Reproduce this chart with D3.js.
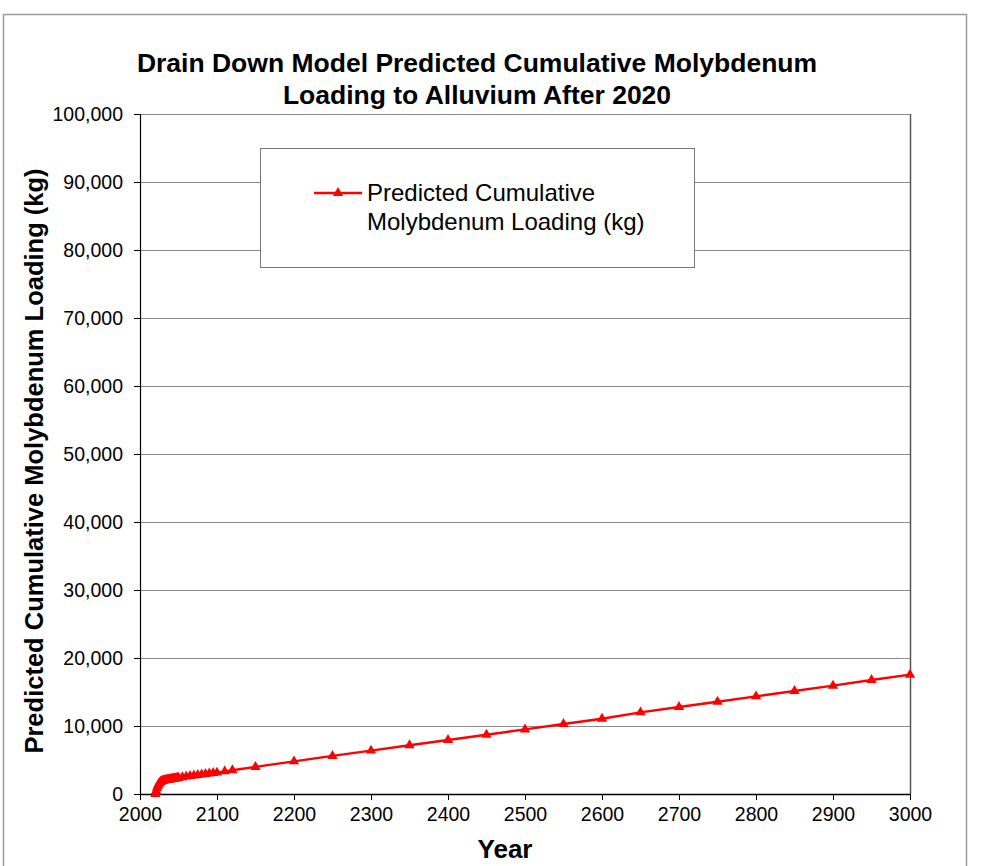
<!DOCTYPE html>
<html><head><meta charset="utf-8">
<script src="https://cdn.jsdelivr.net/npm/d3@7"></script>
<style>body{margin:0;background:#fff;font-family:"Liberation Sans",Arial,sans-serif}</style>
</head><body>
<svg id="c" width="988" height="866"></svg>
<script>
const titleLines = ["Drain Down Model Predicted Cumulative Molybdenum", "Loading to Alluvium After 2020"];
const seriesName = ["Predicted Cumulative", "Molybdenum Loading (kg)"];
const xLabel = "Year";
const yLabel = "Predicted Cumulative Molybdenum Loading (kg)";
const xTicks = [2000,2100,2200,2300,2400,2500,2600,2700,2800,2900,3000];
const yTicks = [0,10000,20000,30000,40000,50000,60000,70000,80000,90000,100000];
const years = [2020,2021,2022,2023,2024,2025,2026,2027,2028,2029,2030,2031,2032,2033,2034,2035,2036,2037,2038,2039,2040,2041,2042,2043,2044,2045,2046,2047,2048,2049,2050,
  2055,2060,2065,2070,2075,2080,2085,2090,2095,2100,2110,2120,2150,2200,2250,2300,2350,2400,2450,2500,2550,2600,2650,2700,2750,2800,2850,2900,2950,3000];
const loading = [0,450,850,1150,1400,1580,1710,1800,1870,1920,1960,1990,2015,2040,2060,2080,2100,2120,2140,2160,2180,2200,2220,2240,2260,2280,2300,2320,2340,2360,2380,
  2470,2560,2640,2720,2800,2870,2940,3010,3080,3150,3330,3500,3980,4800,5600,6380,7160,7940,8720,9500,10290,11070,12010,12790,13570,14360,15150,15930,16760,17550];

const FONT = "Liberation Sans, Arial, sans-serif";
const svg = d3.select("#c");
const W = 988, H = 866;
const m = {l:140, r:910, t:114, b:794};
const x = d3.scaleLinear().domain([2000,3000]).range([m.l, m.r]);
const y = d3.scaleLinear().domain([0,100000]).range([m.b, m.t]);

// outer chart border
svg.append("path").attr("d", `M3.5,${H} V14.5 H966.5 V${H}`).attr("fill","none").attr("stroke","#9a9a9a").attr("stroke-width",1.5);

// gridlines
svg.append("g").selectAll("line").data(yTicks.filter(d=>d>0)).join("line")
  .attr("x1", m.l).attr("x2", m.r).attr("y1", d=>y(d)+0.5).attr("y2", d=>y(d)+0.5)
  .attr("stroke","#8c8c8c").attr("stroke-width",1);
// right border
svg.append("line").attr("x1", m.r+0.5).attr("x2", m.r+0.5).attr("y1", m.t).attr("y2", m.b)
  .attr("stroke","#555").attr("stroke-width",1.5);

// axes
const yAxis = d3.axisLeft(y).tickValues(yTicks).tickSize(6).tickPadding(11).tickFormat(d3.format(","));
const gy = svg.append("g").attr("transform", `translate(${m.l},0)`).call(yAxis);
gy.select(".domain").remove();
gy.selectAll(".tick line").attr("stroke","#000");
gy.append("line").attr("x1",0.5).attr("x2",0.5).attr("y1",m.t).attr("y2",m.b).attr("stroke","#000").attr("stroke-width",1.2);
gy.selectAll("text").attr("font-size",19.5).attr("fill","#000").attr("font-family",FONT);

const xAxis = d3.axisBottom(x).tickValues(xTicks).tickSize(6).tickPadding(7).tickFormat(d3.format("d"));
const gx = svg.append("g").attr("transform", `translate(0,${m.b})`).call(xAxis);
gx.select(".domain").remove();
gx.selectAll(".tick line").attr("stroke","#000");
gx.append("line").attr("x1",m.l).attr("x2",m.r).attr("y1",0.5).attr("y2",0.5).attr("stroke","#000").attr("stroke-width",1.5);
gx.selectAll("text").attr("font-size",19.5).attr("fill","#000").attr("font-family",FONT);

// series
const data = years.map((yr,i)=>({yr, v: loading[i]}));
const line = d3.line().x(d=>x(d.yr)).y(d=>y(d.v));
svg.append("path").datum(data).attr("d", line).attr("fill","none").attr("stroke","#ff0000").attr("stroke-width",2.4);
const tri = d3.symbol().type(d3.symbolTriangle).size(46);
svg.append("g").selectAll("path").data(data).join("path")
  .attr("transform", d=>`translate(${x(d.yr)},${y(d.v)})`).attr("d", tri).attr("fill","#ff0000");

// title
svg.append("text").attr("text-anchor","middle")
  .attr("font-weight","bold").attr("font-size",26.5).attr("font-family",FONT)
  .selectAll("tspan").data(titleLines).join("tspan").attr("x",477).attr("y",(d,i)=>72+i*32).text(d=>d);

// axis titles
svg.append("text").attr("x", 505).attr("y", 858).attr("text-anchor","middle")
  .attr("font-weight","bold").attr("font-size",26).attr("font-family",FONT).text(xLabel);
svg.append("text").attr("transform","translate(43,461) rotate(-90)").attr("text-anchor","middle")
  .attr("font-weight","bold").attr("font-size",25.5).attr("font-family",FONT).text(yLabel);

// legend
const lg = svg.append("g");
lg.append("rect").attr("x",260.5).attr("y",148.5).attr("width",434).attr("height",119)
  .attr("fill","#fff").attr("stroke","#777").attr("stroke-width",1);
lg.append("line").attr("x1",314).attr("x2",362).attr("y1",193).attr("y2",193).attr("stroke","#ff0000").attr("stroke-width",2.4);
lg.append("path").attr("transform","translate(338,193)").attr("d",tri).attr("fill","#ff0000");
lg.append("text").attr("font-size",24).attr("font-family",FONT)
  .selectAll("tspan").data(seriesName).join("tspan").attr("x",367).attr("y",(d,i)=>201+i*29).text(d=>d);
</script>
</body></html>
